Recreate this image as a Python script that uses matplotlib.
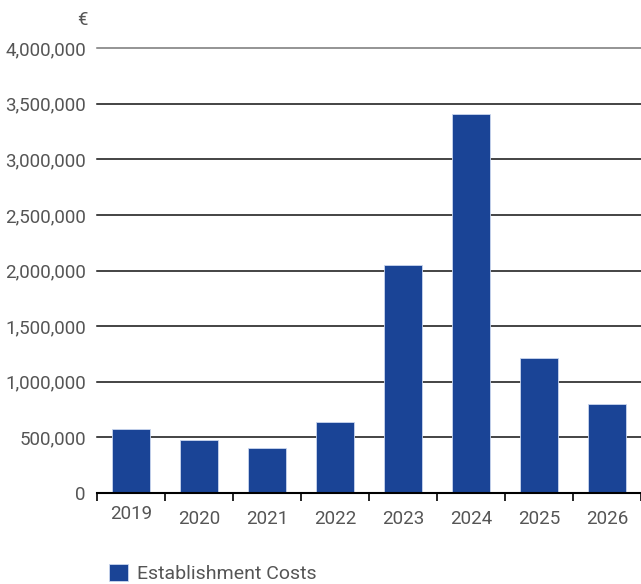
import matplotlib.pyplot as plt
import numpy as np
from matplotlib.ticker import FuncFormatter, MultipleLocator

plt.rcParams['font.family'] = ['Roboto', 'DejaVu Sans']

# andmed
aastad = ['2019', '2020', '2021', '2022', '2023', '2024', '2025', '2026']
kulud = [575000, 476000, 405000, 638000, 2050000, 3405000, 1213000, 800000]

tekst = '#555555'
sinine = '#1a4496'

fig = plt.figure(figsize=(6.41, 5.84), dpi=100)
ax = fig.add_axes([97 / 641, 91 / 584, 544 / 641, 445 / 584])

x = np.arange(len(aastad))
ax.bar(x, kulud, width=0.55, color=sinine, edgecolor='#c9d6ee', linewidth=0.6,
       zorder=3, label='Establishment Costs')

ax.set_xlim(-0.5, len(aastad) - 0.5)
ax.set_ylim(0, 4000000)

# ruudujooned
for v in range(500000, 4000001, 500000):
    c = '#777777' if v == 4000000 else '#111111'
    ax.axhline(v, color=c, lw=1.1, zorder=1, clip_on=False)

ax.yaxis.set_major_locator(MultipleLocator(500000))
ax.yaxis.set_major_formatter(FuncFormatter(lambda v, p: f'{int(v):,}'))
ax.tick_params(axis='y', length=0, pad=8, labelsize=13.5, labelcolor=tekst)

ax.set_xticks(x)
ax.set_xticklabels(aastad)
ax.set_xticks(np.arange(-0.5, len(aastad)), minor=True)
ax.tick_params(axis='x', which='major', length=0, pad=12, labelsize=13.5, labelcolor=tekst)
ax.tick_params(axis='x', which='minor', length=6, width=1.2, color='black', direction='out')
ax.get_xticklabels()[0].set_y(0.011)

for s in ['left', 'right', 'top']:
    ax.spines[s].set_visible(False)
ax.spines['bottom'].set_linewidth(1.5)
ax.spines['bottom'].set_zorder(4)

fig.text(88 / 641, 1 - 20 / 584, '€', ha='right', va='center', fontsize=13.5, color=tekst)

ax.legend(loc='upper left', bbox_to_anchor=(109 / 641, 20 / 584), bbox_transform=fig.transFigure,
          frameon=False, fontsize=14, labelcolor=tekst, handlelength=1.0, handleheight=1.0,
          handletextpad=0.45, borderpad=0, borderaxespad=0)

plt.savefig('out.png', dpi=100)
